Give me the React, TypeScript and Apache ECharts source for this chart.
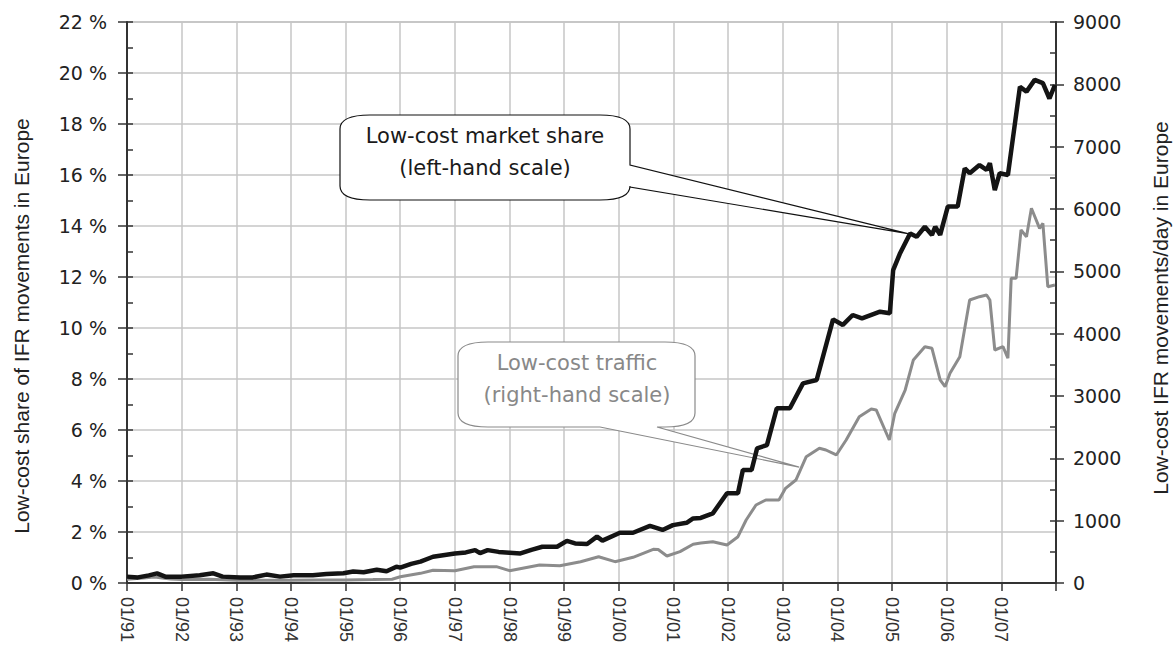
import React, { useEffect, useRef } from "react";
import * as echarts from "echarts";

// Low-cost market share (% of IFR movements), [decimal year, %]
const shareData: [number, number][] = [
  [1991.0, 0.25], [1991.2, 0.22], [1991.4, 0.3], [1991.55, 0.38], [1991.7, 0.25],
  [1992.0, 0.25], [1992.33, 0.3], [1992.58, 0.38], [1992.75, 0.25], [1993.07, 0.22],
  [1993.3, 0.22], [1993.55, 0.33], [1993.8, 0.25], [1994.05, 0.3], [1994.4, 0.3],
  [1994.65, 0.35], [1994.96, 0.38], [1995.14, 0.45], [1995.33, 0.42], [1995.57, 0.52],
  [1995.75, 0.46], [1995.93, 0.64], [1996.0, 0.6], [1996.2, 0.75], [1996.37, 0.84],
  [1996.6, 1.03], [1997.0, 1.16], [1997.2, 1.2], [1997.37, 1.29], [1997.46, 1.17],
  [1997.6, 1.29], [1997.8, 1.22], [1998.0, 1.19], [1998.2, 1.16], [1998.4, 1.3],
  [1998.6, 1.42], [1998.87, 1.42], [1999.05, 1.65], [1999.2, 1.55], [1999.42, 1.53],
  [1999.6, 1.82], [1999.7, 1.66], [2000.02, 1.97], [2000.26, 1.97], [2000.57, 2.24],
  [2000.8, 2.08], [2000.99, 2.27], [2001.24, 2.36], [2001.36, 2.53], [2001.5, 2.55],
  [2001.72, 2.73], [2001.98, 3.52], [2002.18, 3.52], [2002.27, 4.43], [2002.43, 4.43],
  [2002.53, 5.28], [2002.71, 5.41], [2002.89, 6.85], [2003.13, 6.85], [2003.37, 7.83],
  [2003.62, 7.96], [2003.92, 10.34], [2004.1, 10.12], [2004.28, 10.51], [2004.45, 10.38],
  [2004.78, 10.64], [2004.96, 10.58], [2005.02, 12.27], [2005.14, 12.9], [2005.33, 13.71],
  [2005.45, 13.58], [2005.6, 13.97], [2005.73, 13.65], [2005.79, 13.97], [2005.88, 13.65],
  [2006.02, 14.76], [2006.2, 14.76], [2006.33, 16.26], [2006.42, 16.07], [2006.6, 16.39],
  [2006.73, 16.2], [2006.79, 16.46], [2006.88, 15.41], [2006.97, 16.07], [2007.12, 16.0],
  [2007.34, 19.46], [2007.46, 19.27], [2007.61, 19.73], [2007.76, 19.6], [2007.88, 19.0],
  [2007.98, 19.53],
];

// Low-cost traffic (IFR movements/day), [decimal year, movements]
const trafficData: [number, number][] = [
  [1991.0, 60], [1991.3, 80], [1991.5, 95], [1991.8, 65], [1992.0, 55],
  [1992.5, 60], [1993.0, 45], [1993.5, 45], [1994.0, 45], [1994.5, 50],
  [1995.0, 50], [1995.5, 55], [1995.85, 60], [1996.0, 100], [1996.37, 155],
  [1996.6, 205], [1997.0, 198], [1997.35, 262], [1997.76, 262], [1998.0, 198],
  [1998.55, 289], [1998.92, 276], [1999.3, 342], [1999.63, 422], [1999.93, 342],
  [2000.26, 412], [2000.63, 540], [2000.72, 537], [2000.88, 433], [2001.12, 503],
  [2001.36, 621], [2001.5, 640], [2001.72, 663], [2001.98, 610], [2002.18, 743],
  [2002.33, 1011], [2002.51, 1251], [2002.69, 1332], [2002.93, 1332], [2003.05, 1519],
  [2003.24, 1652], [2003.43, 2027], [2003.67, 2161], [2003.79, 2134], [2003.98, 2054],
  [2004.16, 2294], [2004.4, 2668], [2004.62, 2790], [2004.71, 2776], [2004.95, 2294],
  [2005.05, 2723], [2005.24, 3096], [2005.39, 3578], [2005.6, 3791], [2005.73, 3765],
  [2005.88, 3257], [2005.97, 3150], [2006.06, 3364], [2006.24, 3631], [2006.42, 4540],
  [2006.6, 4593], [2006.73, 4620], [2006.79, 4540], [2006.88, 3738], [2007.03, 3791],
  [2007.12, 3605], [2007.18, 4888], [2007.27, 4888], [2007.36, 5663], [2007.46, 5556],
  [2007.55, 6012], [2007.7, 5690], [2007.76, 5770], [2007.85, 4754], [2007.98, 4780],
];

const leftTitle = "Low-cost share of IFR movements in Europe";
const rightTitle = "Low-cost IFR movements/day in Europe";
const shareCallout = ["Low-cost market share", "(left-hand scale)"];
const trafficCallout = ["Low-cost traffic", "(right-hand scale)"];

// callout anchor points (data coordinates)
const shareTip: [number, number] = [2005.29, 13.7];
const trafficTip: [number, number] = [2003.3, 1860];

const RX = 30;
const RY = 14;

function rightTailBubble(x0: number, y0: number, x1: number, y1: number, ya: number, yb: number, tx: number, ty: number) {
  return `M ${x0 + RX} ${y0} L ${x1 - RX} ${y0} Q ${x1} ${y0} ${x1} ${y0 + RY} L ${x1} ${ya} L ${tx} ${ty} L ${x1} ${yb} L ${x1} ${y1 - RY} Q ${x1} ${y1} ${x1 - RX} ${y1} L ${x0 + RX} ${y1} Q ${x0} ${y1} ${x0} ${y1 - RY} L ${x0} ${y0 + RY} Q ${x0} ${y0} ${x0 + RX} ${y0} Z`;
}

function bottomTailBubble(x0: number, y0: number, x1: number, y1: number, xa: number, xb: number, tx: number, ty: number) {
  return `M ${x0 + RX} ${y0} L ${x1 - RX} ${y0} Q ${x1} ${y0} ${x1} ${y0 + RY} L ${x1} ${y1 - RY} Q ${x1} ${y1} ${x1 - RX} ${y1} L ${xb} ${y1} L ${tx} ${ty} L ${xa} ${y1} L ${x0 + RX} ${y1} Q ${x0} ${y1} ${x0} ${y1 - RY} L ${x0} ${y0 + RY} Q ${x0} ${y0} ${x0 + RX} ${y0} Z`;
}

export default function App() {
  const ref = useRef<HTMLDivElement>(null);

  useEffect(() => {
    if (!ref.current) return;
    const chart = echarts.init(ref.current, null, { renderer: "svg" });
    const axisColor = "#333";
    const gridColor = "#c6c6c6";
    const tickFont = "DejaVu Sans";

    chart.setOption({
      animation: false,
      backgroundColor: "#ffffff",
      grid: { left: 127, right: 117, top: 22, bottom: 63, show: true, borderColor: "#999", borderWidth: 1, backgroundColor: "transparent" },
      xAxis: {
        type: "value",
        min: 1991,
        max: 2008,
        interval: 1,
        axisLine: { onZero: false, lineStyle: { color: axisColor, width: 2 } },
        axisTick: { show: true, length: 8, lineStyle: { color: axisColor, width: 1.5 } },
        axisLabel: {
          rotate: -90,
          margin: 14,
          fontFamily: "Liberation Sans",
          fontSize: 18,
          color: "#333",
          formatter: (v: number) => (v >= 2008 ? "" : "01/" + String(Math.round(v)).slice(2)),
        },
        splitLine: { show: true, lineStyle: { color: gridColor, width: 1.5 } },
      },
      yAxis: [
        {
          type: "value",
          position: "left",
          min: 0,
          max: 22,
          interval: 2,
          axisLine: { show: true, lineStyle: { color: axisColor, width: 2 } },
          axisTick: { show: true, length: 9, lineStyle: { color: axisColor, width: 1.5 } },
          axisLabel: { margin: 20, fontFamily: tickFont, fontSize: 19, color: "#222", formatter: (v: number) => `${v} %` },
          splitLine: { show: true, lineStyle: { color: gridColor, width: 1.5 } },
        },
        {
          type: "value",
          position: "right",
          min: 0,
          max: 9000,
          interval: 1000,
          axisLine: { show: true, lineStyle: { color: axisColor, width: 2 } },
          axisTick: { show: true, length: 8, lineStyle: { color: axisColor, width: 1.5 } },
          axisLabel: { margin: 17, fontFamily: tickFont, fontSize: 19, color: "#222", formatter: (v: number) => String(v) },
          splitLine: { show: false },
        },
        {
          type: "value",
          position: "left",
          min: 0,
          max: 22,
          interval: 1,
          axisLine: { show: false },
          axisTick: { show: true, inside: true, length: 6, lineStyle: { color: axisColor, width: 1.5 } },
          axisLabel: { show: false },
          splitLine: { show: false },
        },
        {
          type: "value",
          position: "right",
          min: 0,
          max: 9000,
          interval: 500,
          axisLine: { show: false },
          axisTick: { show: true, inside: true, length: 6, lineStyle: { color: axisColor, width: 1.5 } },
          axisLabel: { show: false },
          splitLine: { show: false },
        },
      ],
      series: [
        {
          type: "line",
          name: "Low-cost market share",
          data: shareData,
          yAxisIndex: 0,
          showSymbol: false,
          lineStyle: { color: "#141414", width: 4.5 },
          z: 4,
        },
        {
          type: "line",
          name: "Low-cost traffic",
          data: trafficData,
          yAxisIndex: 1,
          showSymbol: false,
          lineStyle: { color: "#8c8c8c", width: 3 },
          z: 3,
        },
      ],
    });

    const [stx, sty] = chart.convertToPixel({ seriesIndex: 0 }, shareTip) as number[];
    const [ttx, tty] = chart.convertToPixel({ seriesIndex: 1 }, trafficTip) as number[];

    echarts.graphic.registerShape(
      "shareBubble",
      echarts.graphic.extendPath(rightTailBubble(340, 115, 630, 200, 165, 187, stx, sty), {})
    );
    echarts.graphic.registerShape(
      "trafficBubble",
      echarts.graphic.extendPath(bottomTailBubble(458, 342, 695, 427, 600, 657, ttx, tty), {})
    );

    chart.setOption({
      graphic: [
        { type: "shareBubble", x: 0, y: 0, z: 1, silent: true, style: { fill: "#ffffff", stroke: "#111", lineWidth: 1.2 } },
        {
          type: "text", x: 485, y: 152, z: 2, silent: true,
          style: { text: shareCallout.join("\n"), fill: "#1a1a1a", fontSize: 21, fontFamily: "DejaVu Sans", align: "center", verticalAlign: "middle", lineHeight: 32 },
        },
        { type: "trafficBubble", x: 0, y: 0, z: 1, silent: true, style: { fill: "#ffffff", stroke: "#8a8a8a", lineWidth: 1.2 } },
        {
          type: "text", x: 577, y: 379, z: 2, silent: true,
          style: { text: trafficCallout.join("\n"), fill: "#888888", fontSize: 21, fontFamily: "DejaVu Sans", align: "center", verticalAlign: "middle", lineHeight: 32 },
        },
        {
          type: "text", x: 21, y: 326, rotation: Math.PI / 2, silent: true,
          style: { text: leftTitle, fill: "#222", fontSize: 21, fontFamily: "Liberation Sans", align: "center", verticalAlign: "middle" },
        },
        {
          type: "text", x: 1160, y: 308, rotation: Math.PI / 2, silent: true,
          style: { text: rightTitle, fill: "#222", fontSize: 21, fontFamily: "Liberation Sans", align: "center", verticalAlign: "middle" },
        },
      ],
    });

    return () => chart.dispose();
  }, []);

  return (
    <div
      ref={ref}
      style={{ position: "absolute", left: 0, top: 0, width: 1173, height: 646, background: "#fff" }}
    />
  );
}
